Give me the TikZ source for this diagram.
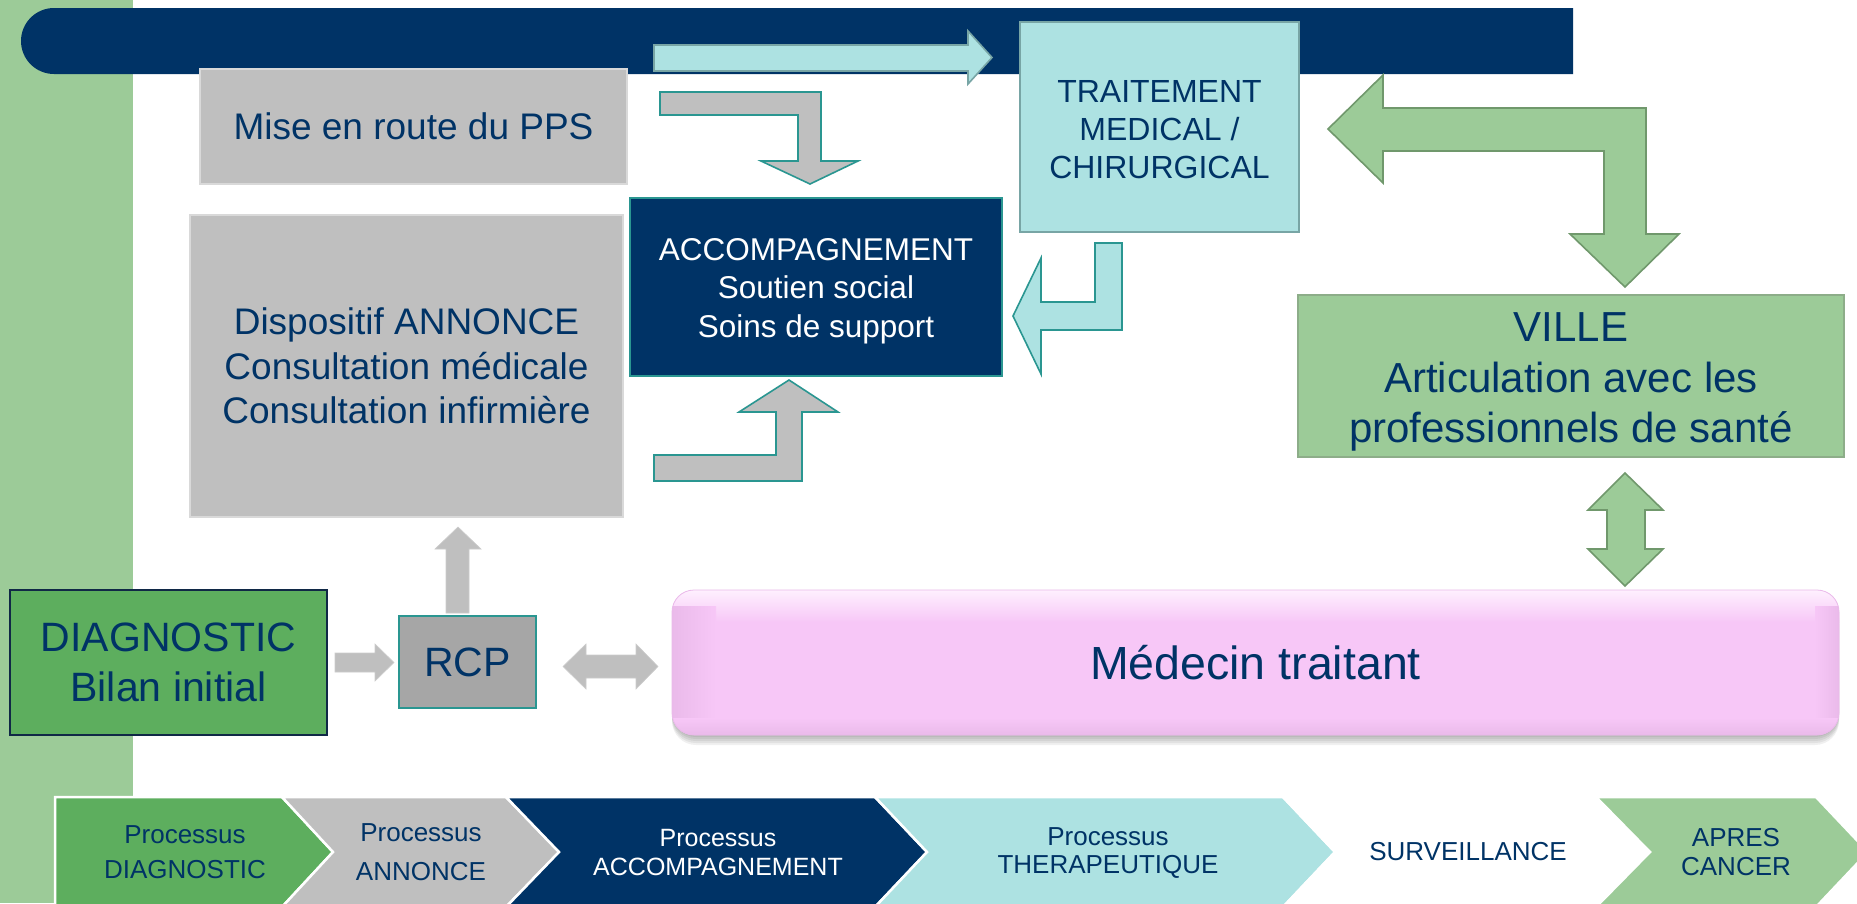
\documentclass[tikz,border=0pt]{standalone}
\usepackage{fontspec}
\setmainfont{Liberation Sans}
\definecolor{navy}{RGB}{0,51,102}
\definecolor{lgreen}{RGB}{156,203,152}
\definecolor{mgreen}{RGB}{93,174,94}
\definecolor{gstroke}{RGB}{112,152,108}
\definecolor{lgray}{RGB}{191,191,191}
\definecolor{mgray}{RGB}{166,166,166}
\definecolor{cyanf}{RGB}{173,226,226}
\definecolor{cyanstroke}{RGB}{120,165,165}
\definecolor{tealc}{RGB}{42,150,145}
\definecolor{pinkf}{RGB}{247,199,247}
\definecolor{pinkl}{RGB}{254,240,254}
\definecolor{pinkd}{RGB}{234,186,234}
\definecolor{diagborder}{RGB}{16,40,70}
\tikzset{
  boxtext/.style={text=navy, align=center, inner sep=0pt},
  graybox/.style={boxtext, fill=lgray, draw=black!15, line width=1.2pt},
  grayarrow/.style={fill=lgray, draw=tealc, line width=1.6pt, line join=miter},
  plainarrow/.style={fill=lgray, draw=black!20, line width=0.6pt},
  cyanarrow/.style={fill=cyanf, draw=tealc, line width=1.6pt},
  greenarrow/.style={fill=lgreen, draw=gstroke, line width=1.6pt},
  chev/.style={draw=white, line width=2.5pt, line join=miter},
  chevtext/.style={text=navy, align=center, inner sep=0pt}
}
\begin{document}
\begin{tikzpicture}[x=1pt,y=-1pt]
\useasboundingbox (0,0) rectangle (1857,903);
\clip (0,0) rectangle (1857,903);
\fill[white] (0,0) rectangle (1857,903);
% left strip
\fill[lgreen] (0,0) rectangle (133,903);
% top navy bar
\fill[navy] (1573,8) -- (54,8) arc[start angle=-90, end angle=-270, radius=33] -- (1573,74) -- cycle;
% top cyan arrow
\draw[cyanarrow, draw=cyanstroke] (654,45) -- (968,45) -- (968,31) -- (992,57.5) -- (968,84) -- (968,71) -- (654,71) -- cycle;

% boxes
\node[graybox, minimum width=427pt, minimum height=115pt, font=\fontsize{37}{44.5}\selectfont] (pps) at (413.5,126.5) {Mise en route du PPS};
\node[graybox, minimum width=433pt, minimum height=302pt, font=\fontsize{37}{44.5}\selectfont] (annonce) at (406.5,366) {Dispositif ANNONCE\\Consultation médicale\\Consultation infirmière};
\node[fill=navy, draw=tealc, line width=2pt, minimum width=372pt, minimum height=178pt, inner sep=0pt] (accomp) at (816,287) {};
\node[boxtext, text=white, font=\fontsize{31.5}{38.5}\selectfont] (accomptext) at (816,291) {ACCOMPAGNEMENT\\Soutien social\\Soins de support};
\node[fill=cyanf, draw=cyanstroke, line width=2pt, minimum width=279pt, minimum height=210pt, inner sep=0pt] (trait) at (1159.5,127) {};
\node[boxtext, font=\fontsize{32}{38}\selectfont] (traittext) at (1159.5,130) {TRAITEMENT\\MEDICAL /\\CHIRURGICAL};
\node[fill=lgreen, draw=gstroke!80, line width=2pt, minimum width=546pt, minimum height=162pt, inner sep=0pt] (ville) at (1571,376) {};
\node[boxtext, font=\fontsize{42}{50.5}\selectfont] (villetext) at (1571,382) {VILLE\\Articulation avec les\\professionnels de santé};
\node[boxtext, fill=mgreen, draw=diagborder, line width=2.5pt, minimum width=317pt, minimum height=145pt, font=\fontsize{41}{50}\selectfont] (diag) at (168.5,662.5) {DIAGNOSTIC\\Bilan initial};
\node[boxtext, fill=mgray, draw=tealc, line width=2.5pt, minimum width=137pt, minimum height=92pt, font=\fontsize{41}{50}\selectfont] (rcp) at (467.5,662) {RCP};

% Medecin traitant box with shadow and bevel
\foreach \s in {2,4,6,8,10}
  \fill[black, opacity=0.06, rounded corners=24pt] (672,590+\s) rectangle (1839,735+\s);
\fill[pinkf, rounded corners=22pt] (672,590) rectangle (1839,735);
\begin{scope}
  \clip[rounded corners=22pt] (672,590) rectangle (1839,735);
  \shade[top color=pinkl, bottom color=pinkf] (672,590) rectangle (1839,622);
  \shade[left color=pinkd, right color=pinkf] (672,606) rectangle (716,722);
  \shade[left color=pinkf, right color=pinkd] (1815,606) rectangle (1839,722);
  \shade[top color=pinkf, bottom color=pinkd] (672,718) rectangle (1839,735);
\end{scope}
\draw[pinkd, line width=0.8pt, rounded corners=22pt] (672,590) rectangle (1839,735);
\node[boxtext, minimum width=1167pt, minimum height=145pt, font=\fontsize{46.5}{56}\selectfont] (med) at (1255.5,663) {Médecin traitant};

% block arrows
\draw[grayarrow] (660,92) -- (821,92) -- (821,161) -- (858,161) -- (810,184) -- (761,161) -- (798,161) -- (798,115) -- (660,115) -- cycle;
\draw[cyanarrow] (1095,243) -- (1122,243) -- (1122,330) -- (1041,330) -- (1041,374) -- (1013,316) -- (1041,258) -- (1041,302) -- (1095,302) -- cycle;
\draw[grayarrow] (654,455) -- (776,455) -- (776,412) -- (739,412) -- (789,380) -- (838,412) -- (802,412) -- (802,481) -- (654,481) -- cycle;
\draw[greenarrow] (1328,129) -- (1383,75) -- (1383,108) -- (1646,108) -- (1646,234) -- (1679,234) -- (1625,287) -- (1570,234) -- (1604,234) -- (1604,151) -- (1383,151) -- (1383,183) -- cycle;
\draw[greenarrow] (1625,473) -- (1663,510) -- (1645,510) -- (1645,549) -- (1663,549) -- (1625,586) -- (1588,549) -- (1607,549) -- (1607,510) -- (1588,510) -- cycle;
\draw[plainarrow] (335,653) -- (375,653) -- (375,644) -- (394,662.5) -- (375,681) -- (375,672) -- (335,672) -- cycle;
\draw[plainarrow] (446,613) -- (446,549) -- (435,549) -- (458,527) -- (481,549) -- (469,549) -- (469,613) -- cycle;
\draw[plainarrow] (563,666.5) -- (586,644) -- (586,655) -- (636,655) -- (636,644) -- (658,666.5) -- (636,689) -- (636,678) -- (586,678) -- (586,689) -- cycle;

% bottom process chevrons
\draw[chev, fill=mgreen] (55,797) -- (282,797) -- (333,852) -- (282,907) -- (55,907) -- cycle;
\draw[chev, fill=lgray] (282,797) -- (506,797) -- (559,852) -- (506,907) -- (282,907) -- (333,852) -- cycle;
\draw[chev, fill=navy] (506,797) -- (875,797) -- (927,852) -- (875,907) -- (506,907) -- (559,852) -- cycle;
\draw[chev, fill=cyanf] (875,797) -- (1283,797) -- (1335,852) -- (1283,907) -- (875,907) -- (927,852) -- cycle;
\draw[chev, fill=white] (1283,797) -- (1596,797) -- (1650,852) -- (1596,907) -- (1283,907) -- (1335,852) -- cycle;
\draw[chev, fill=lgreen] (1596,797) -- (1816,797) -- (1868,852) -- (1816,907) -- (1596,907) -- (1650,852) -- cycle;
\node[chevtext, font=\fontsize{26}{35}\selectfont] (p1) at (185,852.5) {Processus\\DIAGNOSTIC};
\node[chevtext, font=\fontsize{26}{39}\selectfont] (p2) at (421,852.5) {Processus\\ANNONCE};
\node[chevtext, text=white, font=\fontsize{25}{29}\selectfont] (p3) at (718,852.5) {Processus\\ACCOMPAGNEMENT};
\node[chevtext, font=\fontsize{26}{28.5}\selectfont] (p4) at (1108,853) {Processus\\THERAPEUTIQUE};
\node[chevtext, font=\fontsize{26}{31}\selectfont] (p5) at (1468,852) {SURVEILLANCE};
\node[chevtext, font=\fontsize{26}{28.5}\selectfont] (p6) at (1736,852) {APRES\\CANCER};
\end{tikzpicture}
\end{document}
